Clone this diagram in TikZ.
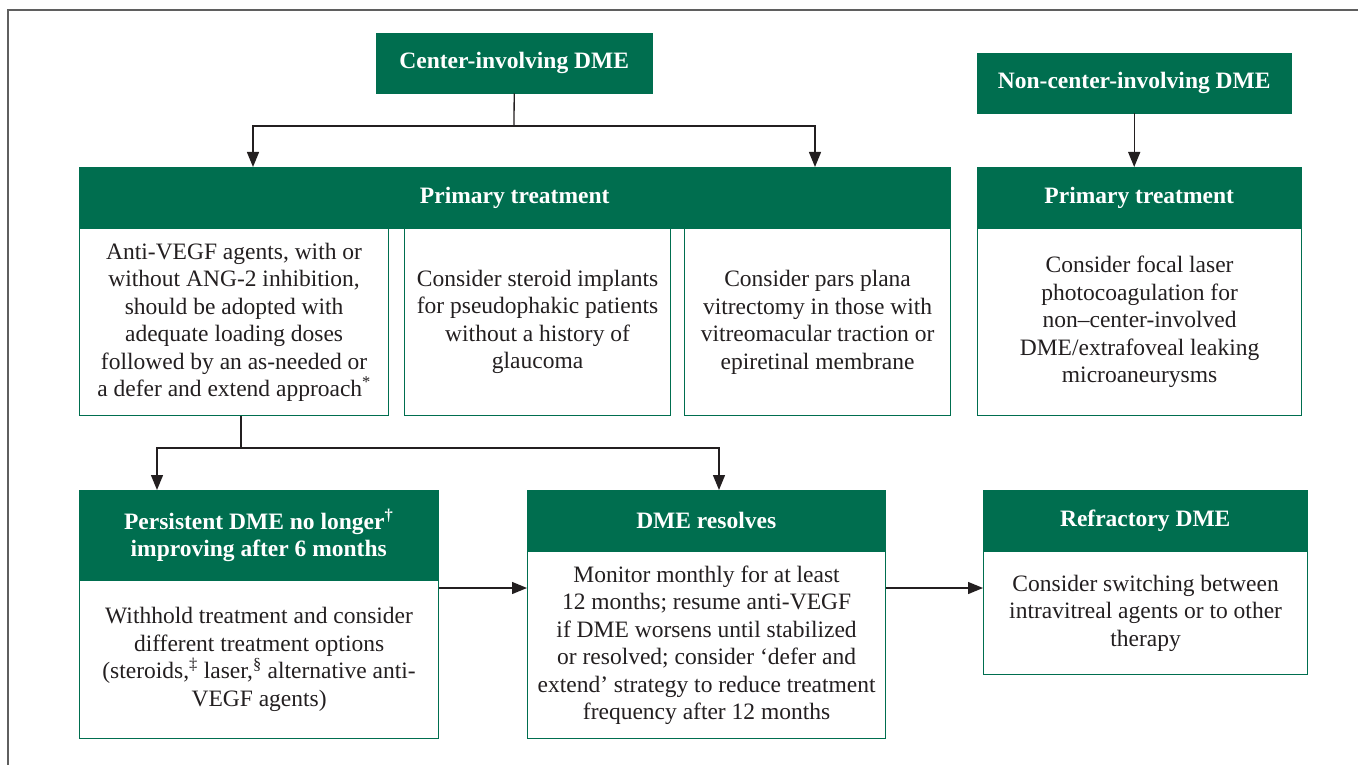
\documentclass[tikz,border=0pt]{standalone}
\usepackage{fontspec}
\setmainfont{Liberation Serif}
\usepackage{xcolor}
\usepackage{tikz}
\usetikzlibrary{positioning, arrows.meta}

\definecolor{dmegreen}{RGB}{0,110,79}
\definecolor{framegray}{RGB}{95,95,95}
\definecolor{linegray}{RGB}{35,31,32}

\begin{document}
\begin{tikzpicture}[
    x=1pt, y=-1pt,
    head/.style={rectangle, draw=dmegreen, fill=dmegreen, text=white, font=\fontsize{23.5}{27.5}\selectfont\bfseries, align=center, anchor=north west, inner sep=0pt},
    body/.style={rectangle, draw=dmegreen, line width=1.2pt, fill=white, text=linegray, font=\fontsize{23.5}{27.5}\selectfont, align=center, anchor=north west, inner sep=0pt},
    flow/.style={draw=linegray, line width=1.3pt, -{Triangle[width=12pt,length=15pt]}},
    link/.style={draw=linegray, line width=1.3pt}
]
    \useasboundingbox (0,0) rectangle (1358,765);

    % Frame
    \draw[framegray, line width=2pt] (8,765) -- (8,10) -- (1358,10);

    % Center-involving branch
    \node[head, minimum width=276pt, minimum height=60pt] (centerDME) at (376,33) {Center-involving DME};
    \node[head, minimum width=871pt, minimum height=61pt] (primaryHead) at (79,167) {Primary treatment};
    \node[body, minimum width=309pt, minimum height=187pt] (antiVEGF) at (79,228)
        {Anti-VEGF agents, with or\\without ANG-2 inhibition,\\should be adopted with\\adequate loading doses\\followed by an as-needed or\\a defer and extend approach\textsuperscript{*}};
    \node[body, minimum width=266pt, minimum height=187pt] (steroidImpl) at (404,228)
        {Consider steroid implants\\for pseudophakic patients\\without a history of\\glaucoma};
    \node[body, minimum width=266pt, minimum height=187pt] (vitrectomy) at (684,228)
        {Consider pars plana\\vitrectomy in those with\\vitreomacular traction or\\epiretinal membrane};

    % Non-center-involving branch
    \node[head, minimum width=314pt, minimum height=60pt] (nonCenterDME) at (977,53) {Non-center-involving DME};
    \node[head, minimum width=324pt, minimum height=61pt] (primaryHeadR) at (977,167) {Primary treatment};
    \node[body, minimum width=324pt, minimum height=187pt] (focalLaser) at (977,228)
        {Consider focal laser\\photocoagulation for\\non–center-involved\\DME/extrafoveal leaking\\microaneurysms};

    % Outcomes
    \node[head, minimum width=359pt, minimum height=90pt] (persistHead) at (79,490)
        {Persistent DME no longer\textsuperscript{†}\\improving after 6 months};
    \node[body, minimum width=359pt, minimum height=158pt] (persistBody) at (79,580)
        {Withhold treatment and consider\\different treatment options\\(steroids,\textsuperscript{‡} laser,\textsuperscript{§} alternative anti-\\VEGF agents)};
    \node[head, minimum width=358pt, minimum height=61pt] (resolveHead) at (527,490) {DME resolves};
    \node[body, minimum width=358pt, minimum height=187pt] (resolveBody) at (527,551)
        {Monitor monthly for at least\\12 months; resume anti-VEGF\\if DME worsens until stabilized\\or resolved; consider ‘defer and\\extend’ strategy to reduce treatment\\frequency after 12 months};
    \node[head, minimum width=324pt, minimum height=61pt] (refractHead) at (983,490) {Refractory DME};
    \node[body, minimum width=324pt, minimum height=123pt] (refractBody) at (983,551)
        {Consider switching between\\intravitreal agents or to other\\therapy};

    % Connectors
    \coordinate (splitTop) at (514,126);
    \coordinate (inPrimL) at (253,167);
    \coordinate (inPrimR) at (815,167);
    \draw[link] (centerDME.south) -- (splitTop);
    \draw[flow] (splitTop) -| (inPrimL);
    \draw[flow] (splitTop) -| (inPrimR);

    \draw[flow] (nonCenterDME.south) -- (primaryHeadR.north -| nonCenterDME.south);

    \coordinate (splitMid) at (241,448);
    \coordinate (inPersist) at (157,490);
    \coordinate (inResolve) at (719,490);
    \draw[link] (antiVEGF.south -| splitMid) -- (splitMid);
    \draw[flow] (splitMid) -| (inPersist);
    \draw[flow] (splitMid) -| (inResolve);

    \coordinate (sideLevel) at (0,588);
    \draw[flow] (persistBody.east |- sideLevel) -- (resolveBody.west |- sideLevel);
    \draw[flow] (resolveBody.east |- sideLevel) -- (refractBody.west |- sideLevel);

\end{tikzpicture}
\end{document}
